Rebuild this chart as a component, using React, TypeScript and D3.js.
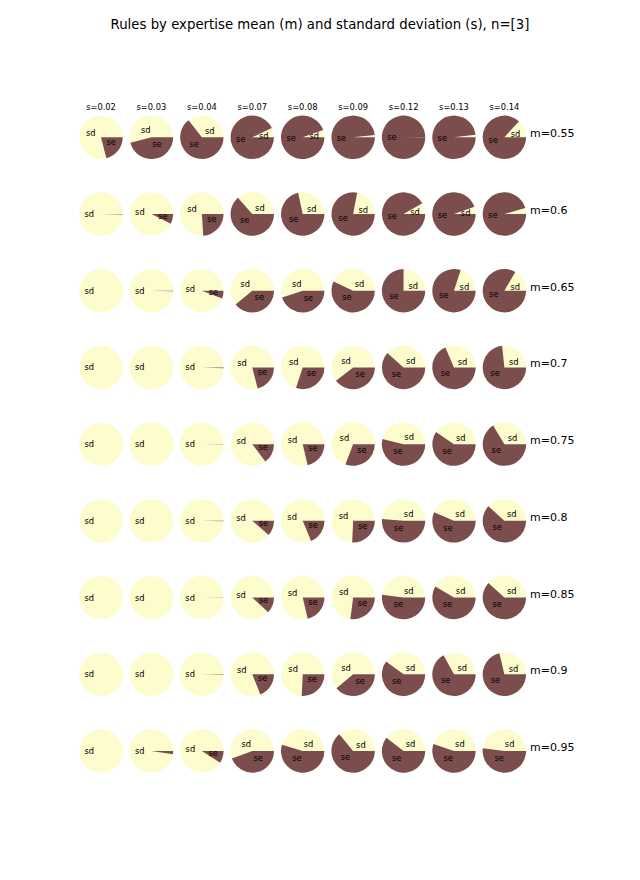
import * as d3 from 'd3';
import { FC } from 'react';

// column (s) and row (m) labels
const sLabels = ['0.02', '0.03', '0.04', '0.07', '0.08', '0.09', '0.12', '0.13', '0.14'];
const mLabels = ['0.55', '0.6', '0.65', '0.7', '0.75', '0.8', '0.85', '0.9', '0.95'];
const sliceNames = ['sd', 'se'];

// share of "se" per cell, one array per m row (sd = 1 - se)
const se055 = [0.21, 0.46, 0.645, 0.93, 0.946, 0.983, 0.998, 0.982, 0.867];
const se060 = [0.003, 0.075, 0.24, 0.635, 0.716, 0.78, 0.917, 0.945, 0.955];
const se065 = [0, 0.003, 0.058, 0.39, 0.45, 0.57, 0.75, 0.8, 0.834];
const se070 = [0, 0, 0.006, 0.21, 0.3, 0.395, 0.616, 0.685, 0.733];
const se075 = [0, 0, 0.002, 0.147, 0.213, 0.308, 0.538, 0.595, 0.663];
const se080 = [0, 0, 0.002, 0.114, 0.187, 0.257, 0.513, 0.564, 0.618];
const se085 = [0, 0, 0.002, 0.118, 0.213, 0.27, 0.52, 0.585, 0.618];
const se090 = [0, 0, 0.004, 0.189, 0.257, 0.389, 0.6, 0.67, 0.713];
const se095 = [0, 0.023, 0.09, 0.444, 0.546, 0.64, 0.605, 0.552, 0.52];
const seRows = [se055, se060, se065, se070, se075, se080, se085, se090, se095];

const width = 640;
const height = 880;
const radius = 21.7;
const colors = ['#fcfccc', '#7c4d4d'];
const font = 'DejaVu Sans';

const x = d3.scalePoint<string>().domain(sLabels).range([101, 504.4]);
const y = d3.scalePoint<string>().domain(mLabels).range([137.3, 751]);

// start at 3 o'clock, go counter-clockwise like matplotlib
const pie = d3
  .pie<number>()
  .sort(null)
  .startAngle(Math.PI / 2)
  .endAngle(Math.PI / 2 - 2 * Math.PI)
  .value((d) => d);
const arc = d3.arc<d3.PieArcDatum<number>>().innerRadius(0).outerRadius(radius);
const labelArc = d3
  .arc<d3.PieArcDatum<number>>()
  .innerRadius(radius * 0.32)
  .outerRadius(radius * 0.32);

const Cell: FC<{ se: number }> = ({ se }) => {
  const arcs = pie([1 - se, se]);
  return (
    <g>
      {arcs.map((d, i) =>
        d.value > 0 ? <path key={i} d={arc(d) as string} fill={colors[i]} /> : null
      )}
      {arcs.map((d, i) => {
        if (d.value < 0.05) return null;
        const [lx, ly] = labelArc.centroid(d);
        return (
          <text
            key={'t' + i}
            x={lx}
            y={ly}
            fontSize={8.3}
            textAnchor={lx > 0 ? 'start' : 'end'}
            dominantBaseline={'central'}
            fill={'#000'}
          >
            {sliceNames[i]}
          </text>
        );
      })}
    </g>
  );
};

const App: FC = () => {
  return (
    <div style={{ position: 'absolute', left: 0, top: 0 }}>
      <svg width={width} height={height} fontFamily={font} style={{ display: 'block', background: '#fff' }}>
        <text x={320} y={24} fontSize={13.3} textAnchor={'middle'} dominantBaseline={'central'}>
          Rules by expertise mean (m) and standard deviation (s), n=[3]
        </text>
        {sLabels.map((s) => (
          <text
            key={s}
            x={x(s)}
            y={107}
            fontSize={8.3}
            textAnchor={'middle'}
            dominantBaseline={'central'}
          >
            {'s=' + s}
          </text>
        ))}
        {mLabels.map((m, r) => (
          <g key={m}>
            {sLabels.map((s, c) => (
              <g key={s} transform={`translate(${x(s)},${y(m)})`}>
                <Cell se={seRows[r][c]} />
              </g>
            ))}
            <text x={530} y={(y(m) as number) - 3.5} fontSize={11} dominantBaseline={'central'}>
              {'m=' + m}
            </text>
          </g>
        ))}
      </svg>
    </div>
  );
};

export default App;
